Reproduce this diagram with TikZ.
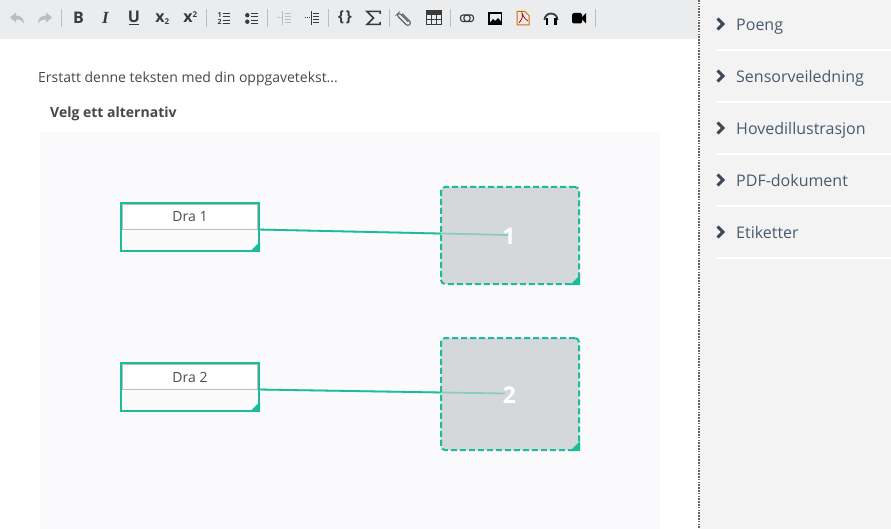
\documentclass[tikz,border=0pt]{standalone}
\usepackage{fontspec}
\setmainfont{Open Sans}
\newfontfamily\iconserif{Liberation Serif}
\usetikzlibrary{backgrounds}

\definecolor{tealline}{HTML}{1ABC9C}
\definecolor{toolbarbg}{HTML}{EBECEE}
\definecolor{sidebg}{HTML}{F3F3F3}
\definecolor{panelbg}{HTML}{FAFAFC}
\definecolor{dropbg}{HTML}{D5D8DA}
\definecolor{sidetext}{HTML}{4A5A6C}
\definecolor{icondark}{HTML}{3A3A3A}
\definecolor{iconlight}{HTML}{BDBDBD}

\tikzset{
    dragbox/.style={draw=tealline, line width=2.2pt, fill=panelbg, minimum width=138pt, minimum height=47.4pt, outer sep=0pt},
    draglabel/.style={draw=iconlight, line width=0.8pt, fill=white, minimum width=135pt, minimum height=25pt, outer sep=0pt, text=black!70, text height=11pt, text depth=1pt, font=\fontsize{14}{16}\selectfont},
    dropbox/.style={draw=tealline, line width=2pt, dash pattern=on 6pt off 3pt, rounded corners=4pt, fill=dropbg, minimum width=138pt, outer sep=0pt},
    dropnum/.style={text=white, inner sep=0pt, font=\fontsize{23}{25}\selectfont\bfseries},
    link/.style={draw=tealline, line width=1.8pt},
    sideitem/.style={anchor=base west, inner sep=0pt, text=sidetext, font=\fontsize{16}{18}\selectfont},
    tooltext/.style={text=icondark, inner sep=0pt, font=\fontsize{16}{18}\selectfont\bfseries},
    toolline/.style={draw=icondark, line width=1.2pt},
    plaintext/.style={anchor=base west, inner sep=0pt, text=black!72}
}

\begin{document}
\begin{tikzpicture}[x=1pt, y=-1pt]
    \useasboundingbox (0,0) rectangle (891,529);

    \fill[toolbarbg] (0,0) rectangle (698,39);
    \fill[sidebg] (700,0) rectangle (891,529);
    \draw[black!60, line width=1.6pt, dash pattern=on 1.6pt off 1.2pt] (699,0) -- (699,529);

    % separators of the toolbar
    \foreach \sepx in {61,206,267,328,389,450,595}
        \draw[iconlight, line width=0.9pt] (\sepx,9) -- (\sepx,27);

    % undo and redo
    \foreach \arrowx/\arrowdir in {17/1,45/-1} {
        \begin{scope}[shift={(\arrowx,18.5)}, xscale=\arrowdir]
            \fill[iconlight] (-7,-1) -- (-1,-6) -- (-1,-3) .. controls (4,-3) and (7,0) .. (7,5) .. controls (5,2) and (3,1) .. (-1,1) -- (-1,4) -- cycle;
        \end{scope}
    }

    % text format buttons
    \node[tooltext] (boldicon) at (78.5,18) {B};
    \node[tooltext, font=\fontsize{17}{18}\iconserif\bfseries\itshape] (italicicon) at (105.5,18) {I};
    \node[tooltext] (underlineicon) at (134,16.5) {U};
    \draw[toolline, line width=1.5pt] (129,24.3) -- (139,24.3);
    \node[tooltext] (subicon) at (160,18.5) {x};
    \node[tooltext, font=\fontsize{8}{9}\selectfont\bfseries] (subnum) at (167,22) {2};
    \node[tooltext] (supicon) at (188,18.5) {x};
    \node[tooltext, font=\fontsize{8}{9}\selectfont\bfseries] (supnum) at (195,14.5) {2};

    % ordered and bullet lists
    \node[tooltext, font=\fontsize{7}{7}\selectfont\bfseries] (olone) at (219.5,15) {1};
    \node[tooltext, font=\fontsize{7}{7}\selectfont\bfseries] (oltwo) at (219.5,22) {2};
    \foreach \rowy in {13.7,16.7,20.5,23.5}
        \draw[toolline] (222.5,\rowy) -- (229.5,\rowy);
    \foreach \rowy in {15.2,21.7} {
        \fill[icondark] (247.3,\rowy) circle (2.2pt);
        \draw[toolline] (251,\rowy-1.5) -- (258.3,\rowy-1.5);
        \draw[toolline] (251,\rowy+1.5) -- (258.3,\rowy+1.5);
    }

    % outdent and indent
    \foreach \rowy in {13,16,19,22} {
        \draw[iconlight, line width=0.9pt] (284.5,\rowy) -- (291,\rowy);
        \draw[icondark, line width=0.9pt] (313,\rowy) -- (319,\rowy);
    }
    \draw[iconlight, line width=0.9pt] (282.7,11) -- (282.7,25);
    \draw[icondark, line width=0.9pt] (311.7,11) -- (311.7,25);
    \draw[iconlight, line width=0.9pt, dash pattern=on 1pt off 1pt] (277,17.5) -- (281.5,17.5);
    \draw[icondark, line width=0.9pt, dash pattern=on 1pt off 1pt] (305,17.5) -- (310,17.5);

    % braces and sum
    \node[tooltext, font=\fontsize{15}{17}\selectfont\bfseries] (bracesicon) at (345,17.5) {\{\hspace{2pt}\}};
    \draw[icondark, line width=1.5pt, miter limit=8] (380,14) -- (380,11.5) -- (367,11.5) -- (373.5,18) -- (367,24.5) -- (380,24.5) -- (380,22);

    % paper clip
    \begin{scope}[shift={(404,19)}, rotate=-45]
        \draw[draw=icondark!80, line width=1.1pt, rounded corners=2.5pt] (-5,-2.5) -- (8,-2.5) -- (8,2.5) -- (-8,2.5) -- (-8,-1) -- (5,-1);
    \end{scope}

    % table
    \fill[icondark] (426,11) rectangle (441,15);
    \draw[icondark, line width=1pt] (426,11) rectangle (441,25) (426,20) -- (441,20) (431,15) -- (431,25) (436,15) -- (436,25);

    % link
    \draw[toolline, line width=1.1pt, rounded corners=2.5pt] (460.5,15) rectangle (470,21.5);
    \draw[toolline, line width=1.1pt, rounded corners=2.5pt] (464,15) rectangle (473.5,21.5);

    % image
    \draw[black, line width=1.2pt] (489,13) rectangle (501.5,24);
    \fill[black] (489,24) -- (493,19) -- (495,21) -- (498,18) -- (501.5,22) -- (501.5,24) -- cycle;

    % pdf
    \draw[orange!85!black, line width=1pt] (517,11.5) -- (525,11.5) -- (529,15.5) -- (529,25) -- (517,25) -- cycle;
    \draw[red!80!black, line width=0.8pt] (519,23) .. controls (523,18) and (523,15) .. (522,13) .. controls (524,18) and (526,20) .. (528,21);

    % headphones
    \draw[icondark, line width=1.8pt] (544.5,20) arc (180:360:6.5);
    \fill[black] (545.5,18.5) rectangle (548,25);
    \fill[black] (554,18.5) rectangle (556.5,25);

    % video
    \fill[black, rounded corners=1.5pt] (572,13) rectangle (582,23.5);
    \fill[black] (582,17) -- (586,13) -- (586,23.5) -- (582,19.5) -- cycle;

    % texts above the panel
    \node[plaintext, font=\fontsize{14}{16}\selectfont] (introtext) at (38,83) {Erstatt denne teksten med din oppgavetekst...};
    \node[plaintext, font=\fontsize{14}{16}\selectfont\bfseries] (choosetext) at (50,118) {Velg ett alternativ};

    % drag boxes
    \node[dragbox] (drag1) at (190,227) {};
    \node[draglabel] (label1) at (190,217) {Dra 1};
    \node[dragbox] (drag2) at (190,387) {};
    \node[draglabel] (label2) at (190,377) {Dra 2};

    % drop boxes
    \node[dropbox, minimum height=97pt] (drop1) at (510,235.5) {};
    \node[dropnum] (num1) at (509,236.5) {1};
    \node[dropbox, minimum height=112pt] (drop2) at (510,394) {};
    \node[dropnum] (num2) at (509.5,395) {2};

    % corner marks
    \foreach \cornername in {drag1,drag2,drop1,drop2}
        \fill[tealline] ([xshift=1pt,yshift=-1pt]\cornername.south east) -- ([xshift=-9pt,yshift=-1pt]\cornername.south east) -- ([xshift=1pt,yshift=9pt]\cornername.south east) -- cycle;

    % side menu
    \foreach \itemy/\itemname/\itemtext in {24/poeng/Poeng, 76/sensor/Sensorveiledning, 128/hoved/Hovedillustrasjon, 180/pdfdok/PDF-dokument, 232/etikett/Etiketter} {
        \node[sideitem] (\itemname) at (736,\itemy+7) {\itemtext};
        \draw[sidetext!80!black, line width=3pt] (717.5,\itemy-5.5) -- (723,\itemy) -- (717.5,\itemy+5.5);
        \draw[white, line width=2pt] (716,\itemy+26.5) -- (891,\itemy+26.5);
    }

    \begin{scope}[on background layer]
        \fill[panelbg] (40,132) rectangle (660,529);
        \draw[link] (label1.south east) -- ([xshift=-1pt,yshift=1.5pt]num1.center);
        \draw[link] (label2.south east) -- ([xshift=2pt,yshift=1.5pt]num2.west);
    \end{scope}

    % the links fade inside the drop boxes
    \draw[link, draw opacity=0.4] (label1.south east) -- ([xshift=-1pt,yshift=1.5pt]num1.center);
    \draw[link, draw opacity=0.4] (label2.south east) -- ([xshift=2pt,yshift=1.5pt]num2.west);
\end{tikzpicture}
\end{document}
